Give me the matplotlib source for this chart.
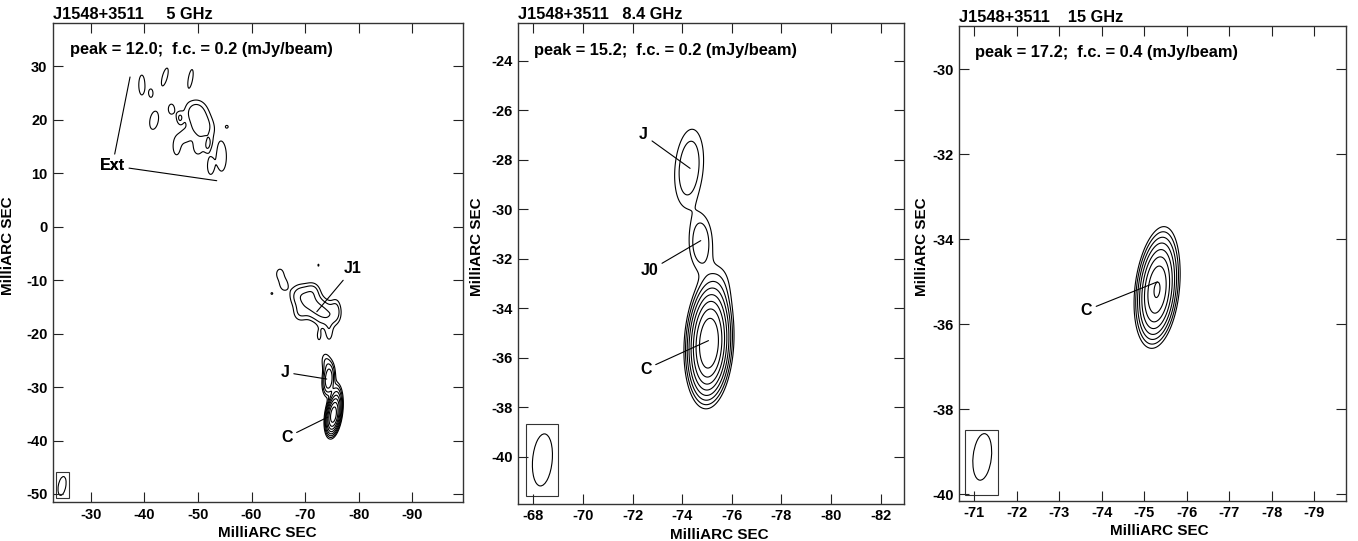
import numpy as np
import matplotlib
matplotlib.use("Agg")
import matplotlib.pyplot as plt
from matplotlib.patches import Ellipse, Rectangle

plt.rcParams["font.family"] = ["Liberation Sans", "DejaVu Sans"]
plt.rcParams["font.weight"] = "bold"
plt.rcParams["axes.unicode_minus"] = False

# contour multipliers of the first contour (f.c.)
LEVEL_STEPS = [1, 1.7, 2.9, 4.9, 8.4, 14.2, 24.1, 41]

# ---- 5 GHz ----
f5_title = "J1548+3511     5 GHz"
f5_peak, f5_fc = 12.0, 0.2
f5_xlim, f5_ylim = (-22.9, -99.5), (-51.5, 38.1)
f5_xticks = [-30, -40, -50, -60, -70, -80, -90]
f5_yticks = [30, 20, 10, 0, -10, -20, -30, -40, -50]
# gaussian components: x, y (mas), peak (mJy/beam), sigma x, sigma y (mas), angle (deg)
f5_cx = [-75.3, -74.4, -74.0, -75.9,
         -69.3, -71.7, -74.0, -74.5, -72.6, -75.8, -71.5, -69.0,
         -65.3, -66.0, -63.8, -72.5,
         -39.5, -41.2, -43.8, -48.6, -41.8, -46.0,
         -49.6, -50.8, -45.0, -46.6, -47.5, -50.0, -51.9, -52.3,
         -54.4, -55.4]
f5_cy = [-35.2, -28.6, -25.5, -32.0,
         -13.0, -15.0, -16.5, -20.0, -20.5, -15.5, -12.0, -16.3,
         -8.8, -10.8, -12.5, -7.2,
         26.5, 25.0, 28.0, 27.7, 19.9, 15.0,
         21.5, 18.5, 22.0, 20.3, 16.8, 14.6, 15.3, 11.3,
         13.1, 18.7]
f5_cp = [12.0, 1.6, 0.35, 0.9,
         0.5, 0.5, 0.5, 0.25, 0.22, 0.28, 0.3, 0.25,
         0.28, 0.28, 0.23, 0.21,
         0.32, 0.26, 0.30, 0.30, 0.30, 0.30,
         0.45, 0.45, 0.26, 0.30, 0.24, 0.26, 0.30, 0.30,
         0.30, 0.23]
f5_csx = [0.58, 0.6, 0.7, 0.6,
          1.5, 1.5, 1.5, 0.6, 0.5, 0.7, 1.0, 1.0,
          0.7, 0.7, 0.3, 0.3,
          0.58, 0.5, 0.52, 0.45, 0.87, 0.7,
          1.6, 1.6, 0.7, 0.5, 0.9, 0.9, 0.5, 0.55,
          1.0, 0.3]
f5_csy = [1.6, 1.6, 1.5, 1.6,
          1.6, 1.6, 1.6, 1.4, 1.2, 1.6, 1.2, 1.2,
          1.0, 1.0, 0.3, 0.6,
          1.9, 1.0, 1.9, 1.9, 1.9, 1.7,
          1.7, 1.7, 1.2, 0.9, 1.2, 1.3, 1.1, 1.5,
          3.0, 0.3]
f5_cang = [8, 5, -10, 0,
           -20, -20, -20, 0, 0, 0, 0, 0,
           0, 0, 0, 0,
           0, 0, 15, 10, 10, 0,
           0, 0, 0, 0, 0, 0, 10, 0,
           0, 0]
f5_beam = (-24.6, -48.5, 1.4, 3.55, 10)
f5_box = (-23.46, -50.84, -25.94, -45.98)
f5_labels = ["Ext", "Ext", "J1", "J", "C"]
f5_label_xy = [(-34.0, 11.4), (-34.0, 11.4), (-78.9, -7.9), (-66.3, -27.25), (-66.6, -39.4)]
f5_target_xy = [(-37.3, 28.0), (-53.5, 8.6), (-72.2, -15.9), (-74.05, -28.5), (-74.3, -35.6)]

# ---- 8.4 GHz ----
f8_title = "J1548+3511   8.4 GHz"
f8_peak, f8_fc = 15.2, 0.2
f8_xlim, f8_ylim = (-67.4, -82.95), (-41.9, -22.49)
f8_xticks = [-68, -70, -72, -74, -76, -78, -80, -82]
f8_yticks = [-24, -26, -28, -30, -32, -34, -36, -38, -40]
f8_cx = [-75.08, -75.2, -74.75, -74.28, -75.5]
f8_cy = [-35.42, -33.7, -31.35, -28.33, -32.9]
f8_cp = [15.2, 0.2, 0.55, 0.55, 0.2]
f8_csx = [0.34, 0.4, 0.32, 0.40, 0.4]
f8_csy = [0.90, 0.6, 0.76, 1.1, 0.7]
f8_cang = [3, 0, 0, 5, 0]
f8_beam = (-68.37, -40.13, 0.79, 2.11, 5)
f8_box = (-67.7, -41.6, -69.01, -38.69)
f8_labels = ["J", "J0", "C"]
f8_label_xy = [(-72.45, -27.0), (-72.67, -32.49), (-72.54, -36.46)]
f8_target_xy = [(-74.32, -28.35), (-74.75, -31.27), (-75.06, -35.31)]

# ---- 15 GHz ----
f15_title = "J1548+3511    15 GHz"
f15_peak, f15_fc = 17.2, 0.4
f15_xlim, f15_ylim = (-70.65, -79.74), (-40.15, -28.98)
f15_xticks = [-71, -72, -73, -74, -75, -76, -77, -78, -79]
f15_yticks = [-30, -32, -34, -36, -38, -40]
f15_cx = [-75.3, -75.42]
f15_cy = [-35.2, -34.5]
f15_cp = [17.2, 0.8]
f15_csx = [0.19, 0.2]
f15_csy = [0.50, 0.5]
f15_cang = [6, 6]
f15_beam = (-71.19, -39.12, 0.43, 1.1, 6)
f15_box = (-70.78, -40.02, -71.57, -38.49)
f15_labels = ["C"]
f15_label_xy = [(-73.64, -35.67)]
f15_target_xy = [(-75.31, -35.0)]


def model_map(xg, yg, cx, cy, cp, csx, csy, cang):
    img = np.zeros_like(xg)
    for x0, y0, p, sx, sy, a in zip(cx, cy, cp, csx, csy, cang):
        t = np.deg2rad(a)
        dx, dy = xg - x0, yg - y0
        u = dx * np.cos(t) + dy * np.sin(t)
        v = -dx * np.sin(t) + dy * np.cos(t)
        img += p * np.exp(-0.5 * (u / sx) ** 2 - 0.5 * (v / sy) ** 2)
    return img


def draw_panel(ax, title, peak, fc, xlim, ylim, xticks, yticks, comps, beam, box,
               labels, label_xy, target_xy, step, xl_x, yl_x):
    x = np.arange(min(xlim), max(xlim), step)
    y = np.arange(min(ylim), max(ylim), step)
    xg, yg = np.meshgrid(x, y)
    img = model_map(xg, yg, *comps)
    levels = [fc * s for s in LEVEL_STEPS if fc * s < peak]
    ax.contour(xg, yg, img, levels=levels, colors="black", linewidths=0.8)

    bx, by, bw, bh, ba = beam
    ax.add_patch(Ellipse((bx, by), bw, bh, angle=ba, fill=False, lw=0.8, ec="black"))
    x0, y0, x1, y1 = box
    ax.add_patch(Rectangle((min(x0, x1), y0), abs(x1 - x0), y1 - y0,
                           fill=False, lw=0.8, ec="#333333"))

    for lab, lxy, txy in zip(labels, label_xy, target_xy):
        ax.annotate(lab, xy=txy, xytext=lxy, ha="center", va="center",
                    fontsize=11.5, fontweight="bold",
                    arrowprops=dict(arrowstyle="-", lw=0.8, color="black",
                                    shrinkA=1, shrinkB=0))

    ax.set_xlim(*xlim)
    ax.set_ylim(*ylim)
    ax.set_xticks(xticks)
    ax.set_yticks(yticks)
    ax.tick_params(direction="in", length=7, width=0.8, top=True, right=True,
                   labelsize=10.5, pad=4, color="#222222")
    for lab in ax.get_xticklabels() + ax.get_yticklabels():
        lab.set_fontweight("bold")
    for s in ax.spines.values():
        s.set_linewidth(1.0)
        s.set_color("#333333")

    ax.set_xlabel("MilliARC SEC", fontsize=11, fontweight="bold")
    ax.set_ylabel("MilliARC SEC", fontsize=11, fontweight="bold")
    ax.xaxis.set_label_coords(xl_x, -0.05)
    ax.yaxis.set_label_coords(yl_x, 0.535)

    ax.text(0.0, 1.008, title, transform=ax.transAxes,
            fontsize=11.8, fontweight="bold", ha="left", va="baseline")
    ax.text(0.041, 0.935, f"peak = {peak:.1f};  f.c. = {fc:.1f} (mJy/beam)",
            transform=ax.transAxes, fontsize=11.8, fontweight="bold",
            ha="left", va="baseline")


fig = plt.figure(figsize=(13.58, 5.41), dpi=100)
ax1 = fig.add_axes([0.0390, 0.0721, 0.3019, 0.8854])
ax2 = fig.add_axes([0.3817, 0.0689, 0.2842, 0.8880])
ax3 = fig.add_axes([0.7064, 0.0745, 0.2845, 0.8774])

draw_panel(ax1, f5_title, f5_peak, f5_fc, f5_xlim, f5_ylim, f5_xticks, f5_yticks,
           (f5_cx, f5_cy, f5_cp, f5_csx, f5_csy, f5_cang), f5_beam, f5_box,
           f5_labels, f5_label_xy, f5_target_xy, 0.08, 0.522, -0.093)
draw_panel(ax2, f8_title, f8_peak, f8_fc, f8_xlim, f8_ylim, f8_xticks, f8_yticks,
           (f8_cx, f8_cy, f8_cp, f8_csx, f8_csy, f8_cang), f8_beam, f8_box,
           f8_labels, f8_label_xy, f8_target_xy, 0.02, 0.52, -0.089)
draw_panel(ax3, f15_title, f15_peak, f15_fc, f15_xlim, f15_ylim, f15_xticks, f15_yticks,
           (f15_cx, f15_cy, f15_cp, f15_csx, f15_csy, f15_cang), f15_beam, f15_box,
           f15_labels, f15_label_xy, f15_target_xy, 0.015, 0.519, -0.078)

fig.savefig("out.png", dpi=100)
